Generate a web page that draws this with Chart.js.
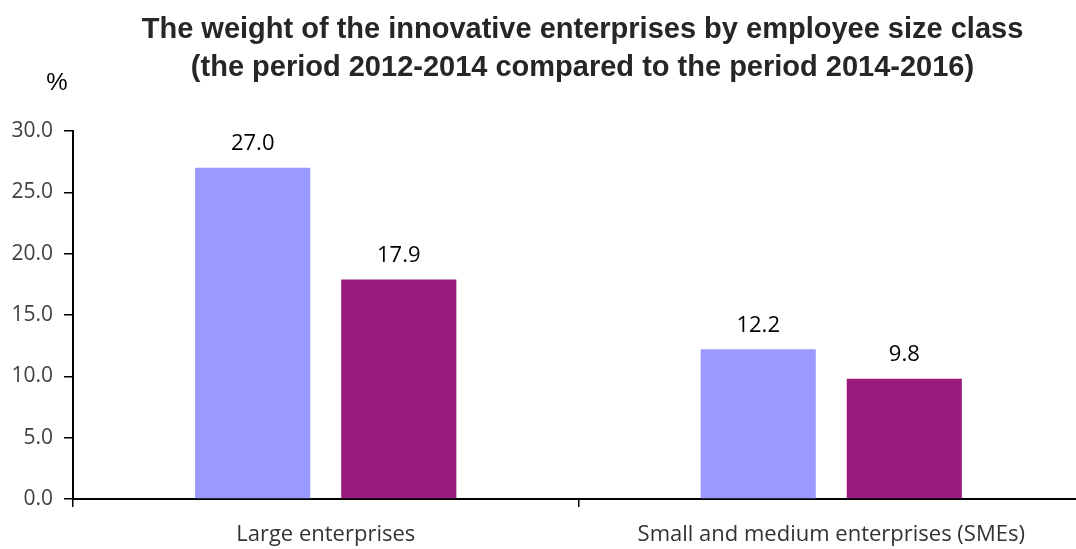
<!DOCTYPE html>
<html>
<head>
    <title>Innovative enterprises by employee size class</title>
    <script src="https://cdn.jsdelivr.net/npm/chart.js"></script>
    <style>
        html, body { margin: 0; padding: 0; background: #fff; overflow: hidden; }
        #wrap { width: 1084px; height: 549px; }
    </style>
</head>
<body>
    <div id="wrap"><canvas id="sizeChart"></canvas></div>
    <script type="text/javascript">
        var categories = ['Large enterprises', 'Small and medium enterprises (SMEs)'];
        var period1 = [27.0, 12.2];   // 2012-2014
        var period2 = [17.9, 9.8];    // 2014-2016
        var titleLines = [
            'The weight of the innovative enterprises by employee size class',
            '(the period 2012-2014 compared to the period 2014-2016)'
        ];

        // titles, unit label and values above bars
        var extras = {
            id: 'extras',
            afterDraw: function(chart) {
                var ctx = chart.ctx;
                var area = chart.chartArea;
                var mid = (area.left + area.right) / 2 + 4;
                ctx.save();
                ctx.fillStyle = '#262626';
                ctx.textAlign = 'center';
                ctx.textBaseline = 'middle';
                ctx.font = 'bold 29px "Liberation Sans", Arial, sans-serif';
                ctx.fillText(titleLines[0], mid, 30);
                ctx.fillText(titleLines[1], mid, 68);
                ctx.font = '24px "Liberation Sans", Arial, sans-serif';
                ctx.fillStyle = '#000';
                ctx.fillText('%', 57, 83);

                ctx.font = '22px "Open Sans", sans-serif';
                chart.data.datasets.forEach(function(ds, i) {
                    chart.getDatasetMeta(i).data.forEach(function(bar, j) {
                        ctx.fillText(ds.data[j].toFixed(1), bar.x, bar.y - 24);
                    });
                });
                ctx.restore();
            }
        };

        var ctx = document.getElementById('sizeChart').getContext('2d');
        var chart = new Chart(ctx, {
            type: 'bar',
            data: {
                labels: categories,
                datasets: [{
                    label: '2012-2014',
                    data: period1,
                    backgroundColor: '#9999ff',
                    categoryPercentage: 0.578,
                    barPercentage: 0.788
                }, {
                    label: '2014-2016',
                    data: period2,
                    backgroundColor: '#991a7b',
                    categoryPercentage: 0.578,
                    barPercentage: 0.788
                }]
            },
            options: {
                responsive: true,
                maintainAspectRatio: false,
                animation: false,
                layout: { padding: { top: 131, right: 0, left: 0, bottom: 0 } },
                plugins: {
                    legend: { display: false },
                    title: { display: false },
                    tooltip: { enabled: false }
                },
                scales: {
                    x: {
                        grid: {
                            offset: true,
                            drawOnChartArea: false,
                            tickLength: 8,
                            tickColor: '#000',
                            lineWidth: 1.5
                        },
                        border: { color: '#000', width: 2 },
                        ticks: {
                            color: '#333',
                            padding: 15,
                            font: { family: '"Open Sans", sans-serif', size: 22 }
                        },
                        afterFit: function(scale) { scale.height = 50; }
                    },
                    y: {
                        min: 0,
                        max: 30,
                        ticks: {
                            stepSize: 5,
                            color: '#404040',
                            padding: 11,
                            font: { family: '"Open Sans", sans-serif', size: 21 },
                            callback: function(v) { return v.toFixed(1); }
                        },
                        grid: {
                            drawOnChartArea: false,
                            tickLength: 9,
                            tickColor: '#000',
                            lineWidth: 1.5
                        },
                        border: { color: '#000', width: 2 },
                        afterFit: function(scale) { scale.width = 73; }
                    }
                }
            },
            plugins: [extras]
        });
    </script>
</body>
</html>
